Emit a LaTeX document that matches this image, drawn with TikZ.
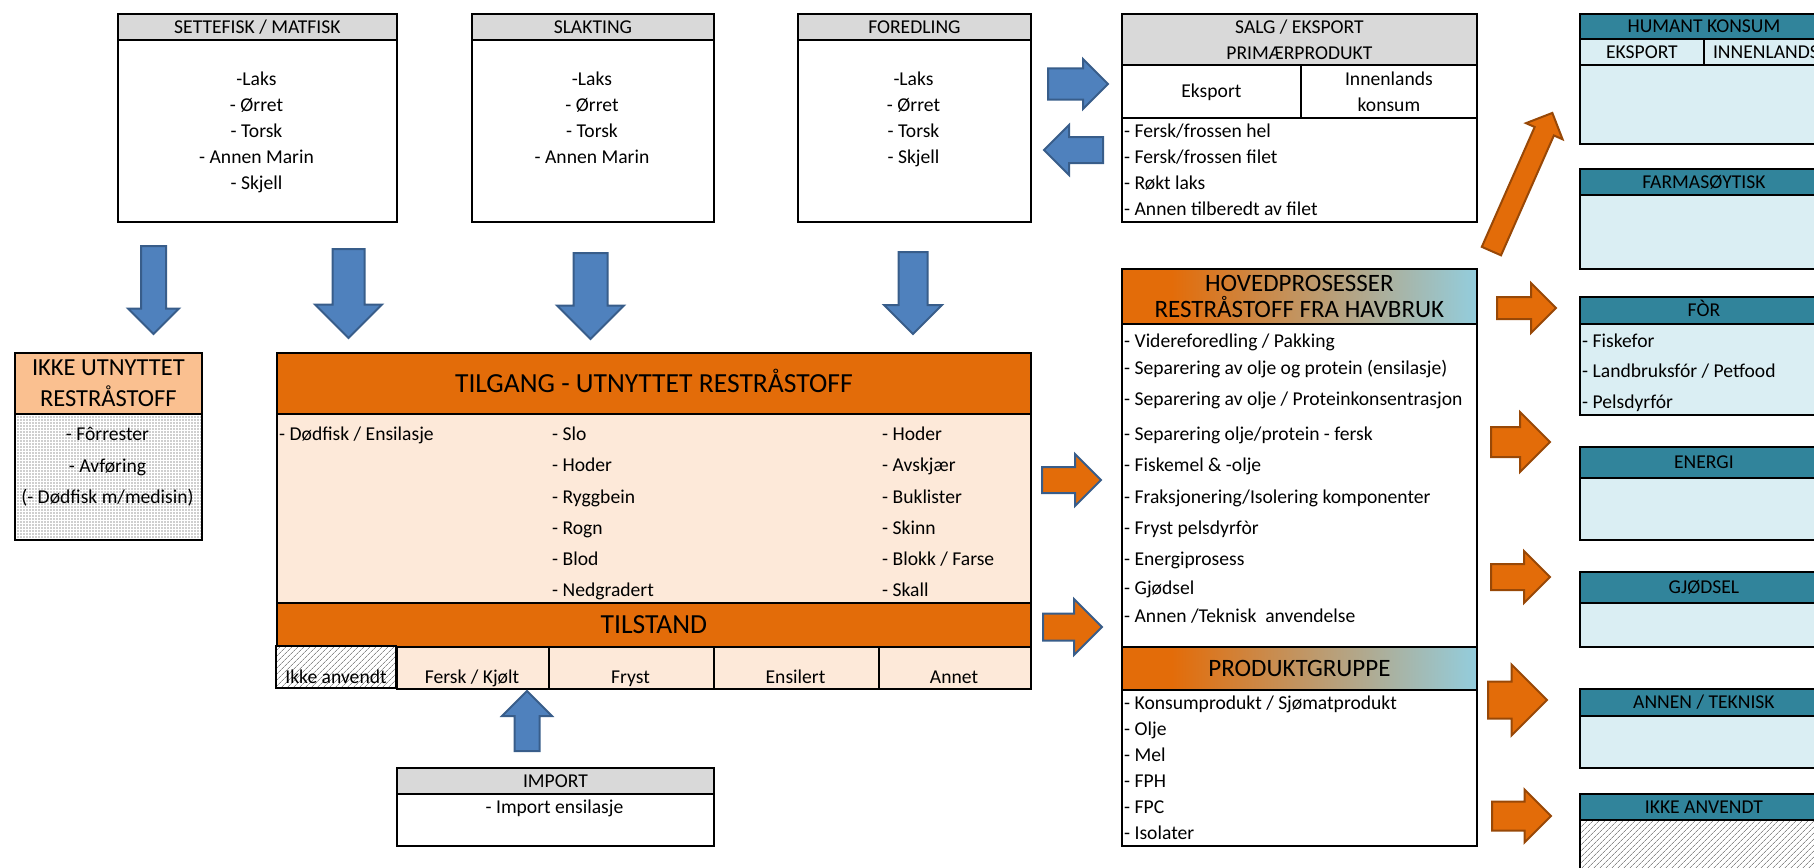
\documentclass[tikz,border=0pt]{standalone}
\usepackage{fontspec}
\setmainfont{Carlito}
\usetikzlibrary{shapes.arrows,patterns.meta,positioning,calc}

\definecolor{hdrgrey}{HTML}{D9D9D9}
\definecolor{orng}{HTML}{E36C09}
\definecolor{peach}{HTML}{FDE9D9}
\definecolor{paleorng}{HTML}{FAC090}
\definecolor{tealhdr}{HTML}{31849B}
\definecolor{paleblue}{HTML}{DAEEF3}
\definecolor{gradblue}{HTML}{93CDDD}
\definecolor{arrblue}{HTML}{4F81BD}
\definecolor{arrblueline}{HTML}{385D8A}
\definecolor{arrorngline}{HTML}{984807}

\pgfdeclarehorizontalshading{hdrgrad}{100bp}{color(0bp)=(orng); color(32bp)=(orng); color(75bp)=(gradblue); color(100bp)=(gradblue)}

\newcommand\txtsize{\fontsize{19.6}{26}\selectfont}
\newcommand\hdsize{\fontsize{25}{26}\selectfont}
\newcommand\bandsize{\fontsize{27.6}{30}\selectfont}

\tikzset{
  box/.style={draw, line width=1.8pt, inner sep=0pt, anchor=north west, font=\txtsize},
  oneline/.style={text height=12.6pt, text depth=0pt},
  item/.style={inner sep=0pt, anchor=base west, font=\txtsize},
  citem/.style={inner sep=0pt, anchor=base, font=\txtsize},
  tealbox/.style={box, oneline, fill=tealhdr, minimum width=248pt},
  palebox/.style={box, fill=paleblue, minimum width=248pt},
  hatch/.style={preaction={fill=white}, pattern={Lines[angle=45,distance=4pt,line width=.7pt]}, pattern color=black!45},
  blkarrow/.style n args={4}{single arrow, draw, line width=2pt, inner sep=0pt,
      minimum height=#1, text height=#2, text depth=0pt,
      single arrow head extend=#3, rotate=#4, anchor=tail},
  bluearrow/.style={fill=arrblue, draw=arrblueline},
  mixarrow/.style={fill=orng, draw=arrblueline},
  orngarrow/.style={fill=orng, draw=arrorngline}
}

\begin{document}
\begin{tikzpicture}[x=1pt, y=-1pt]
\useasboundingbox (0,0) rectangle (1814,867);
\clip (0,0) rectangle (1814,867);

% top row
\node[box, oneline, fill=hdrgrey, minimum width=279pt, minimum height=26pt] (sette) at (117,13) {SETTEFISK / MATFISK};
\node[box, minimum width=279pt, minimum height=182pt] (settebody) at (117,39) {};
\foreach \y/\t [count=\i] in {85/{-Laks},111/{- Ørret},137/{- Torsk},163/{- Annen Marin},189/{- Skjell}}
  \node[citem] (sette-\i) at (256.5,\y) {\t};

\node[box, oneline, fill=hdrgrey, minimum width=242pt, minimum height=26pt] (slakt) at (471,13) {SLAKTING};
\node[box, minimum width=242pt, minimum height=182pt] (slaktbody) at (471,39) {};
\foreach \y/\t [count=\i] in {85/{-Laks},111/{- Ørret},137/{- Torsk},163/{- Annen Marin}}
  \node[citem] (slakt-\i) at (592,\y) {\t};

\node[box, oneline, fill=hdrgrey, minimum width=233pt, minimum height=26pt] (foredl) at (797,13) {FOREDLING};
\node[box, minimum width=233pt, minimum height=182pt] (foredlbody) at (797,39) {};
\foreach \y/\t [count=\i] in {85/{-Laks},111/{- Ørret},137/{- Torsk},163/{- Skjell}}
  \node[citem] (foredl-\i) at (913.5,\y) {\t};

\node[box, fill=hdrgrey, align=center, minimum width=355pt, minimum height=51pt] (salg) at (1121,13) {SALG / EKSPORT\\PRIMÆRPRODUKT};
\node[box, oneline, minimum width=179pt, minimum height=53pt] (eksp) at (1121,64) {Eksport};
\node[box, align=center, minimum width=176pt, minimum height=53pt] (innen) at (1300,64) {Innenlands\\konsum};
\node[box, minimum width=355pt, minimum height=104pt] (salgbody) at (1121,117) {};
\foreach \y/\t [count=\i] in {137/{- Fersk/frossen hel},163/{- Fersk/frossen filet},189/{- Røkt laks},215/{- Annen tilberedt av filet}}
  \node[item] (salg-\i) at (1124,\y) {\t};

% not used
\node[box, fill=paleorng, align=center, font={\fontsize{24.5}{31}\selectfont}, minimum width=187pt, minimum height=61pt] (ikke) at (14,352) {IKKE UTNYTTET\\RESTRÅSTOFF};
\node[box, preaction={fill=white}, pattern={Dots[radius=.65pt,distance=3pt]}, pattern color=black!80, minimum width=187pt, minimum height=126pt] (ikkebody) at (14,413) {};
\foreach \y/\t [count=\i] in {440/{- Fôrrester},472/{- Avføring},503/{(- Dødfisk m/medisin)}}
  \node[citem] (ikke-\i) at (107.5,\y) {\t};

% supply
\node[box, fill=orng, font=\bandsize, text height=17.8pt, text depth=0pt, minimum width=754pt, minimum height=61pt] (tilgang) at (276,352) {TILGANG - UTNYTTET RESTRÅSTOFF};
\node[box, fill=peach, minimum width=754pt, minimum height=189pt] (tilgbody) at (276,413) {};
\node[item] (tilg-0) at (279,440) {- Dødfisk / Ensilasje};
\foreach \y/\t [count=\i] in {440/{- Slo},471/{- Hoder},503/{- Ryggbein},534/{- Rogn},565/{- Blod},596/{- Nedgradert}}
  \node[item] (tilgm-\i) at (552,\y) {\t};
\foreach \y/\t [count=\i] in {440/{- Hoder},471/{- Avskjær},503/{- Buklister},534/{- Skinn},565/{- Blokk / Farse},596/{- Skall}}
  \node[item] (tilgr-\i) at (882,\y) {\t};
\node[box, fill=orng, font=\bandsize, text height=17.8pt, text depth=0pt, minimum width=754pt, minimum height=44pt] (tilstand) at (276,602) {TILSTAND};
\node[box, hatch, minimum width=120pt, minimum height=42pt] (cell1) at (276,646) {};
\node[citem] (celltxt1) at (336,683) {Ikke anvendt};
\foreach \x/\w/\t [count=\i from 2] in {396/152/{Fersk / Kjølt},548/165/{Fryst},713/165/{Ensilert},878/152/{Annet}}{
  \node[box, fill=peach, minimum width=\w pt, minimum height=42pt] (cell\i) at (\x,646) {};
  \node[citem] (celltxt\i) at ($(\x,683)+(\w/2,0)$) {\t};
}

\node[box, oneline, fill=hdrgrey, minimum width=317pt, minimum height=26pt] (import) at (396,767) {IMPORT};
\node[box, minimum width=317pt, minimum height=52pt] (importbody) at (396,793) {};
\node[citem] (import-1) at (554.5,813) {- Import ensilasje};

% main processes
\node[box, shade, shading=hdrgrad, align=center, font=\hdsize, minimum width=355pt, minimum height=55pt] (hoved) at (1121,268) {HOVEDPROSESSER\\RESTRÅSTOFF FRA HAVBRUK};
\node[box, minimum width=355pt, minimum height=323pt] (hovedbody) at (1121,323) {};
\foreach \y/\t [count=\i] in {347/{- Videreforedling / Pakking},374/{- Separering av olje og protein (ensilasje)},405/{- Separering av olje / Proteinkonsentrasjon},440/{- Separering olje/protein - fersk},471/{- Fiskemel \& -olje},503/{- Fraksjonering/Isolering komponenter},534/{- Fryst pelsdyrfòr},565/{- Energiprosess},594/{- Gjødsel},622/{- Annen /Teknisk~ anvendelse}}
  \node[item] (hoved-\i) at (1124,\y) {\t};
\node[box, shade, shading=hdrgrad, font=\hdsize, text height=16pt, text depth=0pt, minimum width=355pt, minimum height=43pt] (produkt) at (1121,646) {PRODUKTGRUPPE};
\node[box, minimum width=355pt, minimum height=156pt] (produktbody) at (1121,689) {};
\foreach \y/\t [count=\i] in {709/{- Konsumprodukt / Sjømatprodukt},735/{- Olje},761/{- Mel},787/{- FPH},813/{- FPC},839/{- Isolater}}
  \node[item] (produkt-\i) at (1124,\y) {\t};

% end use
\node[tealbox, minimum height=25pt] (humant) at (1579,13) {HUMANT KONSUM};
\node[box, oneline, fill=paleblue, minimum width=124pt, minimum height=26pt] (humeksp) at (1579,38) {EKSPORT};
\node[box, oneline, fill=paleblue, minimum width=124pt, minimum height=26pt] (huminnen) at (1703,38) {INNENLANDS};
\node[palebox, minimum height=79pt] (humantbody) at (1579,64) {};

\node[tealbox, minimum height=26pt] (farma) at (1579,168) {FARMASØYTISK};
\node[palebox, minimum height=74pt] (farmabody) at (1579,194) {};

\node[tealbox, minimum height=27pt] (for) at (1579,296) {FÒR};
\node[palebox, minimum height=91pt] (forbody) at (1579,323) {};
\foreach \y/\t [count=\i] in {347/{- Fiskefor},377/{- Landbruksfór / Petfood},408/{- Pelsdyrfór}}
  \node[item] (for-\i) at (1582,\y) {\t};

\node[tealbox, minimum height=31pt] (energi) at (1579,446) {ENERGI};
\node[palebox, minimum height=62pt] (energibody) at (1579,477) {};

\node[tealbox, minimum height=31pt] (gjodsel) at (1579,571) {GJØDSEL};
\node[palebox, minimum height=44pt] (gjodselbody) at (1579,602) {};

\node[tealbox, minimum height=27pt] (annen) at (1579,688) {ANNEN / TEKNISK};
\node[palebox, minimum height=52pt] (annenbody) at (1579,715) {};

\node[tealbox, minimum height=26pt] (ikkeanv) at (1579,793) {IKKE ANVENDT};
\node[box, hatch, minimum width=248pt, minimum height=80pt] (ikkeanvbody) at (1579,819) {};

% block arrows
\node[blkarrow={88pt}{23pt}{13pt}{-90}, bluearrow] (down1) at (153.5,245) {};
\node[blkarrow={89pt}{30pt}{17.5pt}{-90}, bluearrow] (down2) at (348.5,248) {};
\node[blkarrow={86pt}{32pt}{16.5pt}{-90}, bluearrow] (down3) at (590.5,252) {};
\node[blkarrow={82pt}{27pt}{14.5pt}{-90}, bluearrow] (down4) at (913,251) {};
\node[blkarrow={60pt}{29pt}{9.5pt}{0}, bluearrow] (tosalg) at (1047,84) {};
\node[blkarrow={59pt}{24pt}{12pt}{180}, bluearrow] (fromsalg) at (1104,150) {};
\node[blkarrow={60pt}{23pt}{12.5pt}{90}, bluearrow] (up1) at (527,752) {};
\node[blkarrow={59pt}{24pt}{13pt}{0}, mixarrow] (mix1) at (1041,480) {};
\node[blkarrow={59pt}{25pt}{14.5pt}{0}, mixarrow] (mix2) at (1042,627) {};
\node[blkarrow={151pt}{19pt}{9.5pt}{66.2}, orngarrow] (tohum) at (1491,252) {};
\node[blkarrow={59pt}{20pt}{14pt}{0}, orngarrow] (tofor) at (1496,308) {};
\node[blkarrow={59pt}{28pt}{15pt}{0}, orngarrow] (toenergi) at (1490,442) {};
\node[blkarrow={59pt}{24pt}{13pt}{0}, orngarrow] (togjodsel) at (1490,577) {};
\node[blkarrow={59pt}{35pt}{17pt}{0}, orngarrow] (toannen) at (1487,700) {};
\node[blkarrow={59pt}{27pt}{12pt}{0}, orngarrow] (toikke) at (1491,816) {};
\end{tikzpicture}
\end{document}
